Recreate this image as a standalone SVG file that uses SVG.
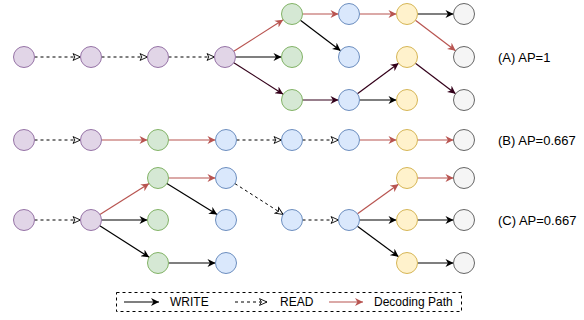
<svg xmlns="http://www.w3.org/2000/svg" width="584" height="320" viewBox="0 0 584 320">
<style>
.p{fill:#e1d5e7;stroke:#9673a6}
.g{fill:#d5e8d4;stroke:#82b366}
.b{fill:#dae8fc;stroke:#6c8ebf}
.y{fill:#fff2cc;stroke:#d6b656}
.k{fill:#f5f5f5;stroke:#666666}
.w{fill:none;stroke:#000;stroke-width:1.2;marker-end:url(#aK)}
.r{fill:none;stroke:#b85450;stroke-width:1.2;marker-end:url(#aR)}
.m{fill:none;stroke:#33001a;stroke-width:1.2;marker-end:url(#aM)}
.d{fill:none;stroke:#000;stroke-width:1;stroke-dasharray:3 3;marker-end:url(#aO)}
text{font-family:"Liberation Sans",Arial,sans-serif;font-size:12px;fill:#000;dominant-baseline:central}
.lbl{font-size:13px}
</style>
<defs>
<marker id="aK" viewBox="0 0 10 10" refX="10" refY="5" markerWidth="9" markerHeight="8" markerUnits="userSpaceOnUse" orient="auto"><path d="M0,0 L10,5 L0,10 L3,5 z" fill="#000"/></marker>
<marker id="aR" viewBox="0 0 10 10" refX="10" refY="5" markerWidth="9" markerHeight="8" markerUnits="userSpaceOnUse" orient="auto"><path d="M0,0 L10,5 L0,10 L3,5 z" fill="#b85450"/></marker>
<marker id="aM" viewBox="0 0 10 10" refX="10" refY="5" markerWidth="9" markerHeight="8" markerUnits="userSpaceOnUse" orient="auto"><path d="M0,0 L10,5 L0,10 L3,5 z" fill="#33001a"/></marker>
<marker id="aO" viewBox="0 0 12 12" refX="11" refY="6" markerWidth="9" markerHeight="9" markerUnits="userSpaceOnUse" orient="auto"><path d="M1,1.5 L11,6 L1,10.5 L3.5,6 z" fill="#fff" stroke="#000" stroke-width="1.2"/></marker>
</defs>

<g id="edges">
<line class="d" x1="34.5" y1="57" x2="80.5" y2="57"/>
<line class="d" x1="101.5" y1="57" x2="147.5" y2="57"/>
<line class="d" x1="168.5" y1="57" x2="214.5" y2="57"/>
<line class="r" x1="233.8" y1="51.3" x2="283.2" y2="19.7"/>
<line class="w" x1="235.5" y1="57" x2="281.5" y2="57"/>
<line class="m" x1="233.8" y1="62.7" x2="283.2" y2="94.3"/>
<line class="r" x1="302.5" y1="14" x2="338.5" y2="14"/>
<line class="w" x1="300.4" y1="20.3" x2="340.6" y2="50.7"/>
<line class="m" x1="302.5" y1="100" x2="338.5" y2="100"/>
<line class="r" x1="359.5" y1="14" x2="396.5" y2="14"/>
<line class="m" x1="357.4" y1="93.8" x2="398.6" y2="63.2"/>
<line class="w" x1="359.5" y1="100" x2="396.5" y2="100"/>
<line class="w" x1="417.5" y1="14" x2="453.5" y2="14"/>
<line class="r" x1="415.4" y1="20.3" x2="455.6" y2="50.7"/>
<line class="m" x1="415.4" y1="63.3" x2="455.6" y2="93.7"/>
<line class="d" x1="34.5" y1="140" x2="80.5" y2="140"/>
<line class="r" x1="101.5" y1="140" x2="147.5" y2="140"/>
<line class="r" x1="168.5" y1="140" x2="215.5" y2="140"/>
<line class="d" x1="236.5" y1="140" x2="281.5" y2="140"/>
<line class="d" x1="302.5" y1="140" x2="338.5" y2="140"/>
<line class="r" x1="359.5" y1="140" x2="396.5" y2="140"/>
<line class="r" x1="417.5" y1="140" x2="453.5" y2="140"/>
<line class="d" x1="34.5" y1="220" x2="80.5" y2="220"/>
<line class="r" x1="99.9" y1="214.4" x2="149.1" y2="183.6"/>
<line class="w" x1="101.5" y1="220" x2="147.5" y2="220"/>
<line class="w" x1="99.8" y1="225.7" x2="149.2" y2="257.3"/>
<line class="r" x1="168.5" y1="178" x2="215.5" y2="178"/>
<line class="w" x1="166.9" y1="183.5" x2="217.1" y2="214.5"/>
<line class="w" x1="168.5" y1="263" x2="215.5" y2="263"/>
<line class="d" x1="234.9" y1="183.6" x2="283.1" y2="214.4"/>
<line class="d" x1="302.5" y1="220" x2="338.5" y2="220"/>
<line class="r" x1="357.5" y1="213.8" x2="398.5" y2="184.2"/>
<line class="w" x1="359.5" y1="220" x2="396.5" y2="220"/>
<line class="w" x1="357.4" y1="226.3" x2="398.6" y2="256.7"/>
<line class="r" x1="417.5" y1="178" x2="453.5" y2="178"/>
<line class="w" x1="417.5" y1="220" x2="453.5" y2="220"/>
<line class="w" x1="417.5" y1="263" x2="453.5" y2="263"/>
</g>

<g id="rowA">
<g id="a1"><circle class="p" cx="24" cy="57" r="10.5"/></g>
<g id="a2"><circle class="p" cx="91" cy="57" r="10.5"/></g>
<g id="a3"><circle class="p" cx="158" cy="57" r="10.5"/></g>
<g id="a4"><circle class="p" cx="225" cy="57" r="10.5"/></g>
<g id="a5"><circle class="g" cx="292" cy="14" r="10.5"/></g>
<g id="a6"><circle class="g" cx="292" cy="57" r="10.5"/></g>
<g id="a7"><circle class="g" cx="292" cy="100" r="10.5"/></g>
<g id="a8"><circle class="b" cx="349" cy="14" r="10.5"/></g>
<g id="a9"><circle class="b" cx="349" cy="57" r="10.5"/></g>
<g id="a10"><circle class="b" cx="349" cy="100" r="10.5"/></g>
<g id="a11"><circle class="y" cx="407" cy="14" r="10.5"/></g>
<g id="a12"><circle class="y" cx="407" cy="57" r="10.5"/></g>
<g id="a13"><circle class="y" cx="407" cy="100" r="10.5"/></g>
<g id="a14"><circle class="k" cx="464" cy="14" r="10.5"/></g>
<g id="a15"><circle class="k" cx="464" cy="57" r="10.5"/></g>
<g id="a16"><circle class="k" cx="464" cy="100" r="10.5"/></g>
<g id="labelA"><text class="lbl" x="498" y="57">(A) AP=1</text></g>
</g>

<g id="rowB">
<g id="b1"><circle class="p" cx="24" cy="140" r="10.5"/></g>
<g id="b2"><circle class="p" cx="91" cy="140" r="10.5"/></g>
<g id="b3"><circle class="g" cx="158" cy="140" r="10.5"/></g>
<g id="b4"><circle class="b" cx="226" cy="140" r="10.5"/></g>
<g id="b5"><circle class="b" cx="292" cy="140" r="10.5"/></g>
<g id="b6"><circle class="b" cx="349" cy="140" r="10.5"/></g>
<g id="b7"><circle class="y" cx="407" cy="140" r="10.5"/></g>
<g id="b8"><circle class="k" cx="464" cy="140" r="10.5"/></g>
<g id="labelB"><text class="lbl" x="498" y="140">(B) AP=0.667</text></g>
</g>

<g id="rowC">
<g id="c1"><circle class="p" cx="24" cy="220" r="10.5"/></g>
<g id="c2"><circle class="p" cx="91" cy="220" r="10.5"/></g>
<g id="c3"><circle class="g" cx="158" cy="178" r="10.5"/></g>
<g id="c4"><circle class="g" cx="158" cy="220" r="10.5"/></g>
<g id="c5"><circle class="g" cx="158" cy="263" r="10.5"/></g>
<g id="c6"><circle class="b" cx="226" cy="178" r="10.5"/></g>
<g id="c7"><circle class="b" cx="226" cy="220" r="10.5"/></g>
<g id="c8"><circle class="b" cx="226" cy="263" r="10.5"/></g>
<g id="c9"><circle class="b" cx="292" cy="220" r="10.5"/></g>
<g id="c10"><circle class="b" cx="349" cy="220" r="10.5"/></g>
<g id="c11"><circle class="y" cx="407" cy="178" r="10.5"/></g>
<g id="c12"><circle class="y" cx="407" cy="220" r="10.5"/></g>
<g id="c13"><circle class="y" cx="407" cy="263" r="10.5"/></g>
<g id="c14"><circle class="k" cx="464" cy="178" r="10.5"/></g>
<g id="c15"><circle class="k" cx="464" cy="220" r="10.5"/></g>
<g id="c16"><circle class="k" cx="464" cy="263" r="10.5"/></g>
<g id="labelC"><text class="lbl" x="498" y="220">(C) AP=0.667</text></g>
</g>

<g id="legend">
<rect x="116.5" y="292.5" width="345" height="19" fill="#fff" stroke="#000" stroke-width="1" stroke-dasharray="3 3"/>
<line class="w" x1="124" y1="302" x2="159" y2="302"/>
<text x="170" y="302">WRITE</text>
<line class="d" x1="235" y1="302" x2="267" y2="302"/>
<text x="280" y="302">READ</text>
<line class="r" x1="329" y1="302" x2="363" y2="302"/>
<text x="374" y="302">Decoding Path</text>
</g>
</svg>
